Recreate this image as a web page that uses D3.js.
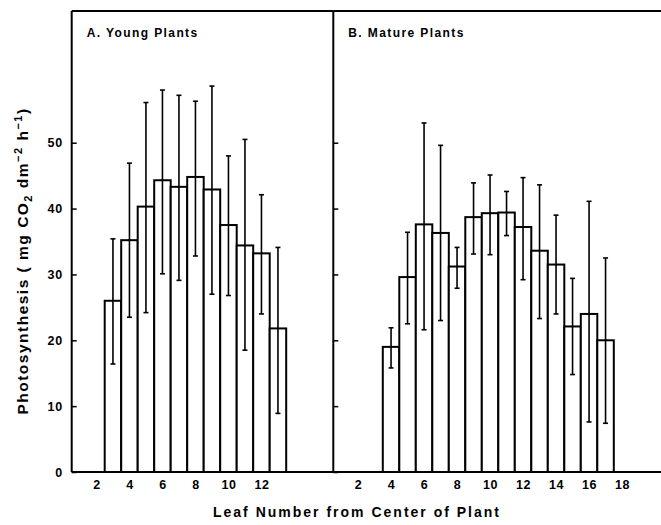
<!DOCTYPE html>
<html>
<head>
<meta charset="utf-8">
<script src="https://cdn.jsdelivr.net/npm/d3@7"></script>
<style>
  body { margin: 0; background: #fff; }
  svg { display: block; }
  text { font-family: "Liberation Sans", Arial, sans-serif; font-weight: bold; fill: #000; }
</style>
</head>
<body>
<div id="chart"></div>
<script>
// Young plants (panel A)
const leavesA = [3, 4, 5, 6, 7, 8, 9, 10, 11, 12, 13];
const meanA = [26.0, 35.2, 40.3, 44.3, 43.3, 44.8, 42.9, 37.5, 34.4, 33.2, 21.8];
const upperA = [35.4, 46.9, 56.1, 58.0, 57.2, 56.3, 58.6, 48.0, 50.5, 42.1, 34.1];
const lowerA = [16.4, 23.5, 24.2, 30.1, 29.1, 32.8, 27.0, 26.8, 18.5, 24.0, 8.9];

// Mature plants (panel B)
const leavesB = [4, 5, 6, 7, 8, 9, 10, 11, 12, 13, 14, 15, 16, 17];
const meanB = [19.0, 29.6, 37.6, 36.3, 31.2, 38.7, 39.3, 39.4, 37.2, 33.6, 31.5, 22.1, 24.0, 20.0];
const upperB = [21.9, 36.4, 53.0, 49.6, 34.1, 43.9, 45.1, 42.6, 44.7, 43.6, 39.0, 29.4, 41.1, 32.5];
const lowerB = [15.8, 22.5, 21.6, 23.0, 27.9, 33.1, 33.0, 35.9, 29.2, 23.3, 24.0, 14.8, 7.6, 7.4];

const xTicksA = [2, 4, 6, 8, 10, 12];
const xTicksB = [2, 4, 6, 8, 10, 12, 14, 16, 18];
const yTicks = [0, 10, 20, 30, 40, 50];
const titles = ["A. Young Plants", "B. Mature Plants"];

const width = 661, height = 525;
const frameTop = 11, frameBottom = 472, frameLeft = 71.7, split = 333.3;
const unit = 16.5; // px per leaf

const svg = d3.select("#chart").append("svg")
  .attr("width", width)
  .attr("height", height);

const y = d3.scaleLinear().domain([0, 70]).range([frameBottom, frameTop]);

function drawPanel(x0, x1, leaves, mean, upper, lower, ticks, title, showLabels) {
  const x = d3.scaleLinear()
    .domain([0.5, 0.5 + (x1 - x0) / unit])
    .range([x0, x1]);

  const g = svg.append("g");
  const rows = leaves.map((d, i) => ({ leaf: d, mean: mean[i], hi: upper[i], lo: lower[i] }));

  // bars
  g.selectAll(".bar").data(rows).join("rect")
    .attr("class", "bar")
    .attr("x", d => x(d.leaf - 0.5))
    .attr("width", d => x(d.leaf + 0.5) - x(d.leaf - 0.5))
    .attr("y", d => y(d.mean))
    .attr("height", d => y(0) - y(d.mean))
    .attr("fill", "#fff")
    .attr("stroke", "#000")
    .attr("stroke-width", 2);

  // error bars
  const err = g.selectAll(".err").data(rows).join("g").attr("class", "err");
  err.append("line")
    .attr("x1", d => x(d.leaf)).attr("x2", d => x(d.leaf))
    .attr("y1", d => y(d.hi)).attr("y2", d => y(d.lo))
    .attr("stroke", "#000").attr("stroke-width", 1.6);
  err.selectAll(".cap").data(d => [d.hi, d.lo].map(v => ({ leaf: d.leaf, v }))).join("line")
    .attr("class", "cap")
    .attr("x1", d => x(d.leaf) - 2.5).attr("x2", d => x(d.leaf) + 2.5)
    .attr("y1", d => y(d.v)).attr("y2", d => y(d.v))
    .attr("stroke", "#000").attr("stroke-width", 1.6);

  // y axis (ticks point inward)
  const yAxis = d3.axisLeft(y).tickValues(yTicks).tickSize(-5).tickPadding(9)
    .tickFormat(showLabels ? d3.format("d") : "");
  const yg = g.append("g").attr("transform", `translate(${x0},0)`).call(yAxis);
  yg.select(".domain").remove();
  yg.selectAll(".tick line").attr("stroke-width", 1.5);
  yg.selectAll("text").attr("font-size", 12.5).attr("letter-spacing", 0.6).attr("font-family", null);

  // x axis labels, no tick marks
  const xAxis = d3.axisBottom(x).tickValues(ticks).tickSize(0).tickPadding(8);
  const xg = g.append("g").attr("transform", `translate(0,${frameBottom})`).call(xAxis);
  xg.select(".domain").remove();
  xg.selectAll("text").attr("font-size", 12.5).attr("letter-spacing", 0.6).attr("font-family", null);

  // frame lines
  g.append("line").attr("x1", x0).attr("x2", x0).attr("y1", frameTop).attr("y2", frameBottom)
    .attr("stroke", "#000").attr("stroke-width", 2);
  g.append("line").attr("x1", x0).attr("x2", x1).attr("y1", frameTop).attr("y2", frameTop)
    .attr("stroke", "#000").attr("stroke-width", 2);
  g.append("line").attr("x1", x0).attr("x2", x1).attr("y1", frameBottom).attr("y2", frameBottom)
    .attr("stroke", "#000").attr("stroke-width", 2);

  g.append("text")
    .attr("x", x0 + 15)
    .attr("y", 36.5)
    .attr("font-size", 12)
    .attr("letter-spacing", 1.4)
    .text(title);
}

drawPanel(frameLeft, split, leavesA, meanA, upperA, lowerA, xTicksA, titles[0], true);
drawPanel(split, width + 2, leavesB, meanB, upperB, lowerB, xTicksB, titles[1], false);

// y axis title
const yTitle = svg.append("text")
  .attr("transform", `translate(28,261) rotate(-90)`)
  .attr("text-anchor", "middle")
  .attr("font-size", 15.5)
  .attr("letter-spacing", 1.5);
yTitle.append("tspan").text("Photosynthesis ( mg CO");
yTitle.append("tspan").attr("font-size", 11).attr("dy", 4).text("2");
yTitle.append("tspan").attr("dy", -4).text(" dm");
yTitle.append("tspan").attr("font-size", 11).attr("dy", -6).text("−2");
yTitle.append("tspan").attr("dy", 6).text(" h");
yTitle.append("tspan").attr("font-size", 11).attr("dy", -6).text("−1");
yTitle.append("tspan").attr("dy", 6).text(")");

// x axis title
svg.append("text")
  .attr("x", 357)
  .attr("y", 517)
  .attr("text-anchor", "middle")
  .attr("font-size", 14)
  .attr("letter-spacing", 2)
  .text("Leaf Number from Center of Plant");
</script>
</body>
</html>
